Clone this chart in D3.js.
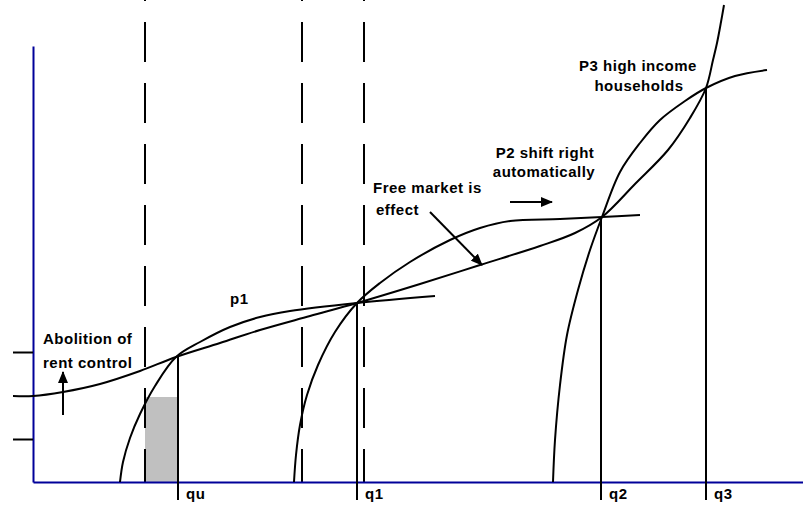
<!DOCTYPE html>
<html>
<head>
<meta charset="utf-8">
<script src="https://cdn.jsdelivr.net/npm/d3@7"></script>
<style>
  body { margin: 0; background: #fff; }
  text { font-family: "Liberation Sans", Arial, sans-serif; font-weight: bold; font-size: 15px; letter-spacing: 0.5px; }
</style>
</head>
<body>
<div id="vis"></div>
<script>
// diagram units: x = quantity of housing, y = rent (arbitrary units)

// rent curve (supply, running through all the equilibria)
var rentCurve = [[-20,86],[0,86],[30,90],[67,98],[107,111],[143,125],[187,139],[227,152],[277,166],[324,179],
	[387,198],[447,217],[507,236],[542,249],[569,265],[602,298],[635,332],[657,364],[673,394],[680,422],[684,439],[688,460],[691,477]];

// p1 / p2 / p3 demand-type curves
var p1Curve = [[87,0],[90,20],[97,44],[107,68],[122,96],[143,125],[167,140],[197,155],[227,165],[257,171],[324,179],[402,186]];
var p2Curve = [[261,0],[263,27],[267,57],[274,87],[285,117],[302,150],[324,179],[347,199],[377,220],[417,242],[447,254],[477,261],[527,263],[569,265],[607,267]];
var p3Curve = [[520,0],[522,42],[527,97],[534,147],[545,192],[557,232],[569,265],[587,310],[607,339],[627,362],[652,381],[673,394],[702,406],[734,412]];

// quantities
var qLabels = ["qu", "q1", "q2", "q3"];
var qValues = [145, 324, 568, 673];
var qRents = [125, 179, 265, 394];

// dashed limits
var dashedX = [112, 269, 331];

// shaded area (rent controlled shortage)
var shade = { x0: 112, x1: 145, y0: 0, y1: 85 };

// y axis ticks
var yTicks = [43, 130];

// arrows [x1, y1, x2, y2]
var arrows = [[30,67,30,110],[397,270,449,217],[477,280,519,280]];

// labels
var labelText = ["Abolition of", "rent control", "p1", "Free market is", "effect", "P2 shift right", "automatically", "P3 high income", "households"];
var labelPos = [[10,138],[10,114],[197,178],[340,289],[343,267],[512,324],[511,305],[605,411],[606,391]];
var labelAnchor = ["start","start","start","start","start","middle","middle","middle","middle"];

var width = 803,
	height = 506;

var x = d3.scaleLinear().domain([0, 770]).range([33, 803]),
	y = d3.scaleLinear().domain([0, 436]).range([482, 46]);

var svg = d3.select('#vis')
	.append('svg')
	.attr('width', width)
	.attr('height', height);

svg.append('defs').append('marker')
	.attr('id', 'head')
	.attr('viewBox', '0 0 12 10')
	.attr('refX', 11)
	.attr('refY', 5)
	.attr('markerWidth', 12)
	.attr('markerHeight', 10)
	.attr('markerUnits', 'userSpaceOnUse')
	.attr('orient', 'auto')
	.append('path')
	.attr('d', 'M0,0L12,5L0,10Z')
	.attr('fill', '#000');

// shaded rectangle
svg.append('rect')
	.attr('x', x(shade.x0))
	.attr('y', y(shade.y1))
	.attr('width', x(shade.x1) - x(shade.x0))
	.attr('height', y(shade.y0) - y(shade.y1))
	.attr('fill', '#c0c0c0');

// dashed vertical lines
svg.selectAll('line.dash')
	.data(dashedX)
	.enter()
	.append('line')
	.attr('class', 'dash')
	.attr('x1', function(d) { return x(d); })
	.attr('x2', function(d) { return x(d); })
	.attr('y1', y(521))
	.attr('y2', y(0))
	.style('stroke', '#000')
	.style('stroke-width', 2)
	.style('stroke-dasharray', '40,21');

// axes
var yAxis = d3.axisLeft(y)
	.tickValues(yTicks)
	.tickSize(20)
	.tickSizeOuter(0)
	.tickFormat('');

var gy = svg.append('g')
	.attr('transform', 'translate(' + x(0) + ',0)')
	.call(yAxis);
gy.select('.domain').style('stroke', '#000099').style('stroke-width', 2);
gy.selectAll('.tick line').style('stroke', '#000').style('stroke-width', 2);

var xAxis = d3.axisBottom(x)
	.tickValues([])
	.tickSizeOuter(0);

var gx = svg.append('g')
	.attr('transform', 'translate(0,' + y(0) + ')')
	.call(xAxis);
gx.select('.domain').style('stroke', '#000099').style('stroke-width', 2);

// curves
var line = d3.line()
	.x(function(d) { return x(d[0]); })
	.y(function(d) { return y(d[1]); })
	.curve(d3.curveCatmullRom.alpha(0.5));

svg.selectAll('path.curve')
	.data([rentCurve, p1Curve, p2Curve, p3Curve])
	.enter()
	.append('path')
	.attr('class', 'curve')
	.attr('d', line)
	.style('fill', 'none')
	.style('stroke', '#000')
	.style('stroke-width', 2);

// quantity lines + labels
svg.selectAll('line.q')
	.data(qValues)
	.enter()
	.append('line')
	.attr('class', 'q')
	.attr('x1', function(d) { return x(d); })
	.attr('x2', function(d) { return x(d); })
	.attr('y1', function(d, i) { return y(qRents[i]); })
	.attr('y2', y(-18))
	.style('stroke', '#000')
	.style('stroke-width', 2);

svg.selectAll('text.q')
	.data(qLabels)
	.enter()
	.append('text')
	.attr('class', 'q')
	.attr('x', function(d, i) { return x(qValues[i]) + 8; })
	.attr('y', y(-17))
	.text(function(d) { return d; });

// arrows
svg.selectAll('line.arrow')
	.data(arrows)
	.enter()
	.append('line')
	.attr('class', 'arrow')
	.attr('x1', function(d) { return x(d[0]); })
	.attr('y1', function(d) { return y(d[1]); })
	.attr('x2', function(d) { return x(d[2]); })
	.attr('y2', function(d) { return y(d[3]); })
	.style('stroke', '#000')
	.style('stroke-width', 2)
	.attr('marker-end', 'url(#head)');

// annotations
svg.selectAll('text.note')
	.data(labelText)
	.enter()
	.append('text')
	.attr('class', 'note')
	.attr('x', function(d, i) { return x(labelPos[i][0]); })
	.attr('y', function(d, i) { return y(labelPos[i][1]); })
	.attr('text-anchor', function(d, i) { return labelAnchor[i]; })
	.text(function(d) { return d; });
</script>
</body>
</html>
